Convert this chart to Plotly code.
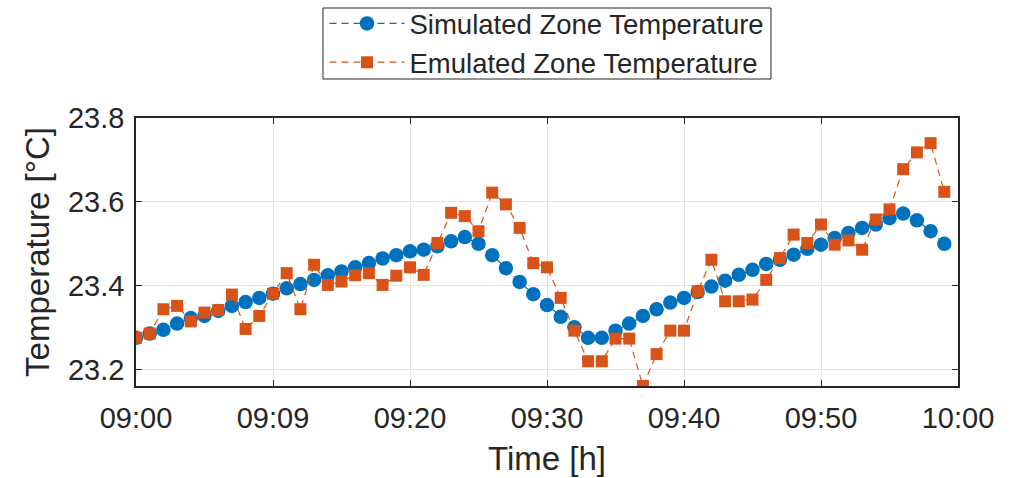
import plotly.graph_objects as go

# minutes after 09:00
minutes = list(range(60))

simulated = [23.276, 23.286, 23.295, 23.310, 23.323, 23.328, 23.340, 23.352, 23.361, 23.371,
             23.381, 23.394, 23.404, 23.414, 23.425, 23.434, 23.444, 23.454, 23.465, 23.473,
             23.482, 23.486, 23.494, 23.506, 23.516, 23.500, 23.473, 23.442, 23.409, 23.380,
             23.354, 23.326, 23.301, 23.276, 23.276, 23.293, 23.310, 23.328, 23.344, 23.360,
             23.371, 23.385, 23.398, 23.412, 23.426, 23.438, 23.452, 23.462, 23.474, 23.488,
             23.498, 23.514, 23.526, 23.538, 23.546, 23.561, 23.572, 23.556, 23.530, 23.500]

emulated = [23.276, 23.286, 23.344, 23.352, 23.315, 23.336, 23.342, 23.379, 23.297, 23.328,
            23.381, 23.430, 23.344, 23.450, 23.402, 23.410, 23.425, 23.430, 23.402, 23.424,
            23.444, 23.426, 23.502, 23.574, 23.566, 23.530, 23.622, 23.594, 23.538, 23.454,
            23.444, 23.371, 23.293, 23.220, 23.220, 23.274, 23.274, 23.161, 23.237, 23.293,
            23.293, 23.387, 23.462, 23.363, 23.363, 23.367, 23.414, 23.466, 23.522, 23.502,
            23.546, 23.498, 23.508, 23.486, 23.558, 23.582, 23.678, 23.718, 23.740, 23.624]

x_tickvals = [0, 10, 20, 30, 40, 50, 60]
x_ticktext = ["09:00", "09:09", "09:20", "09:30", "09:40", "09:50", "10:00"]
y_tickvals = [23.2, 23.4, 23.6, 23.8]
y_ticktext = ["23.2", "23.4", "23.6", "23.8"]

BLUE = "#0072BD"
RED = "#D95319"
DARK = "#262626"
FONT = "Liberation Sans, Arial, sans-serif"

# layout geometry (pixels)
W, H = 1012, 478
ML, MR, MT, MB = 136, 54, 118, 92
PW, PH = W - ML - MR, H - MT - MB


def px_to_paper_x(px):
    return (px - ML) / PW


def px_to_paper_y(py):
    return 1 - (py - MT) / PH


fig = go.Figure()
fig.add_trace(go.Scatter(
    x=minutes, y=simulated, name="Simulated Zone Temperature",
    mode="lines+markers",
    line=dict(color=BLUE, width=1.2, dash="7px,5px"),
    marker=dict(symbol="circle", size=14.5, color=BLUE, line=dict(width=0)),
))
fig.add_trace(go.Scatter(
    x=minutes, y=emulated, name="Emulated Zone Temperature",
    mode="lines+markers",
    line=dict(color=RED, width=1.2, dash="7px,5px"),
    marker=dict(symbol="square", size=12, color=RED, line=dict(width=0)),
))

axis_common = dict(
    showline=True, linecolor=DARK, linewidth=1.5, mirror="allticks",
    ticks="inside", ticklen=6, tickcolor=DARK, tickwidth=1,
    showgrid=True, gridcolor="#e3e3e3", gridwidth=1,
    zeroline=False, automargin=False,
    tickfont=dict(family=FONT, size=29, color=DARK),
)

fig.update_xaxes(
    range=[0, 60], tickvals=x_tickvals, ticktext=x_ticktext,
    ticklabelstandoff=5,
    title=dict(text="Time [h]", font=dict(family=FONT, size=33, color=DARK), standoff=14),
    **axis_common,
)
fig.update_yaxes(
    range=[23.161, 23.8], tickvals=y_tickvals, ticktext=y_ticktext,
    ticklabelstandoff=4,
    title=dict(text="Temperature [°C]", font=dict(family=FONT, size=33, color=DARK), standoff=8),
    **axis_common,
)

# legend frame
fig.add_shape(
    type="rect", xref="paper", yref="paper",
    x0=px_to_paper_x(323), x1=px_to_paper_x(771),
    y0=px_to_paper_y(79), y1=px_to_paper_y(8),
    line=dict(color=DARK, width=1), fillcolor="white", layer="above",
)

fig.update_layout(
    width=W, height=H,
    margin=dict(l=ML, r=MR, t=MT, b=MB),
    paper_bgcolor="white", plot_bgcolor="white",
    showlegend=True,
    legend=dict(
        xref="paper", x=0.5, xanchor="center",
        yref="container", y=1 - 87 / H, yanchor="bottom",
        bgcolor="rgba(0,0,0,0)", borderwidth=0,
        font=dict(family=FONT, size=27.5, color=DARK),
        itemwidth=75, tracegroupgap=0,
    ),
)

fig.write_html(
    "out.html",
    config={"displayModeBar": False},
    post_script="document.body.style.margin='0';document.body.style.overflow='hidden';",
)
